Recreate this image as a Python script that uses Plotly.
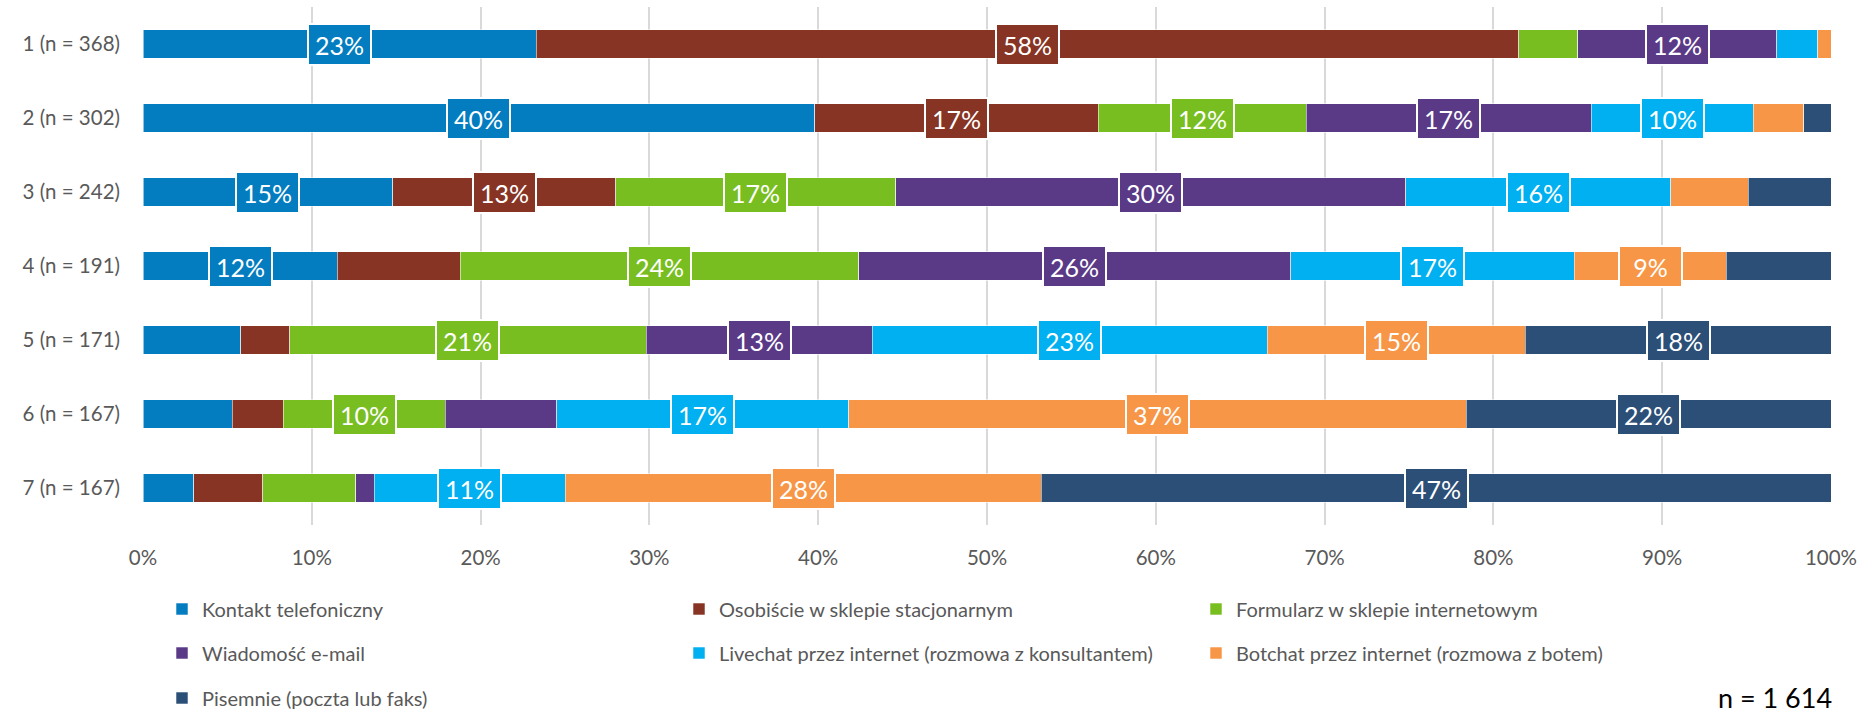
import plotly.graph_objects as go

# Respondent groups (rows, top to bottom)
categories = ["1 (n = 368)", "2 (n = 302)", "3 (n = 242)", "4 (n = 191)",
              "5 (n = 171)", "6 (n = 167)", "7 (n = 167)"]

# Share of each contact channel per group, in percent
kontakt_telefoniczny = [23.3, 39.8, 14.8, 11.5, 5.8, 5.3, 3.0]
osobiscie_w_sklepie = [58.2, 16.8, 13.2, 7.3, 2.9, 3.0, 4.1]
formularz_internetowy = [3.5, 12.3, 16.6, 23.6, 21.1, 9.6, 5.5]
wiadomosc_email = [11.8, 16.9, 30.2, 25.6, 13.4, 6.6, 1.1]
livechat = [2.4, 9.6, 15.7, 16.8, 23.4, 17.3, 11.3]
botchat = [0.8, 3.0, 4.6, 9.0, 15.3, 36.6, 28.2]
pisemnie = [0.0, 1.6, 4.9, 6.2, 18.1, 21.6, 46.8]

series_names = [
    "Kontakt telefoniczny",
    "Osobiście w sklepie stacjonarnym",
    "Formularz w sklepie internetowym",
    "Wiadomość e-mail",
    "Livechat przez internet (rozmowa z konsultantem)",
    "Botchat przez internet (rozmowa z botem)",
    "Pisemnie (poczta lub faks)",
]
series_values = [kontakt_telefoniczny, osobiscie_w_sklepie, formularz_internetowy,
                 wiadomosc_email, livechat, botchat, pisemnie]
series_colors = ["#037DC0", "#873424", "#78BE21", "#5A3A87",
                 "#00B0F0", "#F79646", "#2C4F77"]
legend_ids = ["legend", "legend", "legend", "legend2", "legend2", "legend2", "legend3"]

total_n = "n = 1 614"
label_min = 8.5  # smaller segments stay unlabelled

FONT = "Lato"
GREY = "#595959"

fig = go.Figure()
for name, vals, color, lg in zip(series_names, series_values, series_colors, legend_ids):
    fig.add_trace(go.Bar(
        y=categories, x=vals, name=name, orientation="h",
        marker=dict(color=color, line=dict(color="rgba(255,255,255,0.55)", width=1)),
        legend=lg, hoverinfo="name+x",
    ))

# Value labels in boxes, centred on their segments
annotations = []
for row, cat in enumerate(categories):
    start = 0.0
    for vals, color in zip(series_values, series_colors):
        v = vals[row]
        if v >= label_min:
            annotations.append(dict(
                x=start + v / 2, y=cat, xref="x", yref="y",
                text=f"{round(v)}%", showarrow=False,
                font=dict(family=FONT, size=25, color="white"),
                bgcolor=color, bordercolor="white", borderwidth=2, borderpad=3,
                width=55, height=33,
            ))
        start += v

annotations.append(dict(
    x=1, y=-(697 - 525) / 518, xref="paper", yref="paper", xanchor="right",
    yanchor="middle", xshift=3, text=total_n, showarrow=False,
    font=dict(family=FONT, size=27, color="#000000"),
))

legend_common = dict(
    orientation="h", xref="container", yref="container", xanchor="left",
    yanchor="middle", entrywidth=472, entrywidthmode="pixels",
    font=dict(family=FONT, size=20, color=GREY), bgcolor="rgba(0,0,0,0)",
    traceorder="normal", itemclick=False, itemdoubleclick=False,
)

fig.update_layout(
    width=1867, height=717,
    margin=dict(l=143, r=36, t=7, b=192),
    paper_bgcolor="white", plot_bgcolor="white",
    barmode="stack", bargap=0.61,
    font=dict(family=FONT, color=GREY),
    xaxis=dict(
        range=[0, 100], dtick=10, ticksuffix="%", showgrid=True,
        gridcolor="#D9D9D9", gridwidth=1.5, zeroline=False, showline=False,
        ticks="", ticklabelstandoff=18,
        tickfont=dict(family=FONT, size=20.5, color=GREY), fixedrange=True,
    ),
    yaxis=dict(
        categoryorder="array", categoryarray=categories, autorange="reversed",
        showgrid=False, zeroline=False, showline=False, ticks="",
        ticklabelstandoff=22,
        tickfont=dict(family=FONT, size=20.5, color=GREY), fixedrange=True,
    ),
    legend=dict(legend_common, x=162 / 1867, y=(717 - 609) / 717),
    legend2=dict(legend_common, x=162 / 1867, y=(717 - 653) / 717),
    legend3=dict(legend_common, x=162 / 1867, y=(717 - 698) / 717),
    annotations=annotations,
    showlegend=True,
)

fig.write_html("out.html")
